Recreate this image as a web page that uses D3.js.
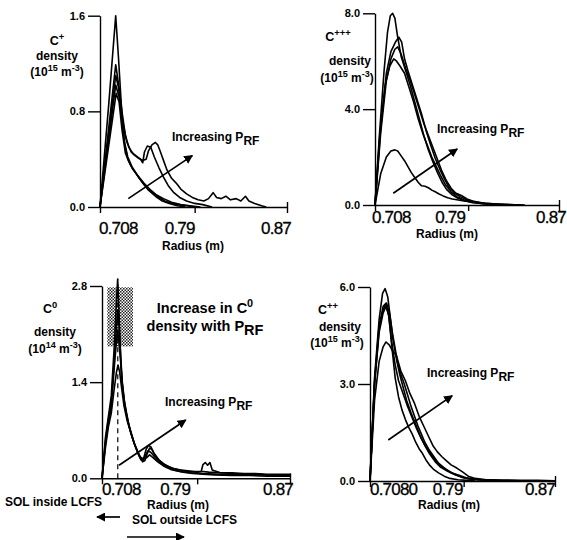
<!DOCTYPE html>
<html>
<head>
<meta charset="utf-8">
<script src="https://cdn.jsdelivr.net/npm/d3@7/dist/d3.min.js"></script>
<style>
  html, body { margin: 0; padding: 0; background: #fff; }
  svg { display: block; }
  text { font-family: "Liberation Sans", Arial, sans-serif; fill: #000; }
  .b { font-weight: bold; }
</style>
</head>
<body>
<svg id="chart" width="567" height="540"></svg>
<script>
// radius ticks shared by the four panels
const radiusTicks = [0.708, 0.79, 0.87];
const radiusDomain = [0.708, 0.87];

// C+ density (1e15 m^-3), one [radius, density] list per RF power
const cPlusTicks = [0, 0.8, 1.6];
const cPlus = [
  [[0.708,0],[0.7155,0.85],[0.7216,1.6],[0.724,1.25],[0.7265,0.85],[0.729,0.55],[0.732,0.42],[0.736,0.33],[0.740,0.27],[0.745,0.2],[0.750,0.14],[0.756,0.09],[0.762,0.05],[0.768,0.03],[0.775,0.01],[0.782,0]],
  [[0.708,0],[0.7216,1.19],[0.7245,1.0],[0.727,0.8],[0.730,0.6],[0.733,0.5],[0.737,0.44],[0.741,0.41],[0.745,0.39],[0.748,0.40],[0.750,0.47],[0.753,0.52],[0.756,0.54],[0.758,0.52],[0.760,0.47],[0.763,0.39],[0.766,0.31],[0.770,0.24],[0.774,0.2],[0.778,0.15],[0.783,0.11],[0.788,0.08],[0.793,0.06],[0.798,0.05],[0.802,0.07],[0.806,0.12],[0.809,0.08],[0.813,0.07],[0.817,0.09],[0.821,0.06],[0.826,0.07],[0.830,0.05],[0.834,0.09],[0.837,0.05],[0.842,0.03],[0.848,0.01],[0.852,0]],
  [[0.708,0],[0.7216,1.02],[0.7245,0.92],[0.7275,0.72],[0.731,0.55],[0.735,0.46],[0.739,0.43],[0.743,0.40],[0.745,0.37],[0.7465,0.46],[0.749,0.51],[0.752,0.50],[0.755,0.42],[0.759,0.33],[0.763,0.25],[0.767,0.18],[0.772,0.12],[0.777,0.08],[0.783,0.05],[0.79,0.03],[0.797,0.02],[0.805,0]],
  [[0.708,0],[0.722,0.95],[0.7245,0.88],[0.727,0.65],[0.730,0.45],[0.734,0.36],[0.738,0.3],[0.742,0.24],[0.747,0.18],[0.752,0.13],[0.758,0.09],[0.764,0.05],[0.770,0.03],[0.776,0.02],[0.783,0.01],[0.79,0]],
  [[0.708,0],[0.7216,1.1],[0.724,1.0],[0.7265,0.78],[0.729,0.55],[0.732,0.4],[0.736,0.32],[0.741,0.26],[0.746,0.2],[0.751,0.15],[0.757,0.1],[0.763,0.07],[0.770,0.04],[0.778,0.02],[0.786,0.01],[0.795,0]]
];

// C+++ density (1e15 m^-3)
const c3PlusTicks = [0, 4.0, 8.0];
const c3Plus = [
  [[0.708,0],[0.712,3.0],[0.716,5.6],[0.719,7.2],[0.7215,7.9],[0.7235,8.0],[0.7255,7.8],[0.728,7.0],[0.731,6.2],[0.735,5.6],[0.739,5.0],[0.743,4.3],[0.747,3.6],[0.751,2.9],[0.755,2.3],[0.759,1.8],[0.763,1.35],[0.767,0.95],[0.771,0.65],[0.776,0.42],[0.781,0.28],[0.787,0.18],[0.794,0.1],[0.802,0.06],[0.81,0.03],[0.82,0.01],[0.83,0]],
  [[0.708,0],[0.713,3.2],[0.718,5.5],[0.722,6.4],[0.726,6.8],[0.729,7.0],[0.7315,6.8],[0.734,6.1],[0.737,5.6],[0.741,5.0],[0.745,4.4],[0.749,3.8],[0.753,3.1],[0.757,2.5],[0.761,1.95],[0.765,1.5],[0.769,1.1],[0.773,0.75],[0.778,0.5],[0.783,0.35],[0.789,0.22],[0.796,0.12],[0.805,0.07],[0.815,0.04],[0.826,0.02],[0.838,0]],
  [[0.708,0],[0.713,3.0],[0.718,5.2],[0.722,6.1],[0.7255,6.5],[0.728,6.6],[0.731,6.3],[0.735,5.7],[0.739,5.2],[0.743,4.6],[0.747,4.0],[0.751,3.4],[0.755,2.9],[0.759,2.4],[0.763,1.9],[0.767,1.4],[0.771,1.0],[0.775,0.7],[0.779,0.5],[0.784,0.4],[0.789,0.25],[0.795,0.15],[0.803,0.08],[0.812,0.05],[0.82,0.03],[0.83,0.01],[0.84,0]],
  [[0.708,0],[0.712,2.8],[0.717,5.0],[0.721,5.8],[0.7245,6.1],[0.727,6.0],[0.73,5.8],[0.734,5.5],[0.738,4.9],[0.742,4.3],[0.746,3.6],[0.75,3.0],[0.754,2.5],[0.758,2.0],[0.762,1.6],[0.766,1.2],[0.77,0.85],[0.775,0.55],[0.78,0.35],[0.786,0.22],[0.792,0.14],[0.80,0.08],[0.808,0.04],[0.818,0.02],[0.828,0]],
  [[0.708,0],[0.713,1.3],[0.718,2.0],[0.722,2.25],[0.7255,2.3],[0.728,2.25],[0.731,2.05],[0.734,1.85],[0.737,1.6],[0.740,1.35],[0.743,1.15],[0.746,0.95],[0.749,0.8],[0.752,0.78],[0.755,0.72],[0.758,0.62],[0.761,0.55],[0.764,0.47],[0.768,0.38],[0.772,0.3],[0.776,0.25],[0.78,0.22],[0.785,0.18],[0.79,0.15],[0.795,0.12],[0.80,0.08],[0.806,0.04],[0.812,0.02],[0.82,0]]
];

// C0 density (1e14 m^-3)
const c0Ticks = [0, 1.4, 2.8];
const c0 = [
  [[0.708,0],[0.711,0.6],[0.7135,0.9],[0.716,1.2],[0.7185,1.9],[0.7205,2.6],[0.7215,2.9],[0.7225,2.5],[0.7235,2.0],[0.725,1.45],[0.727,1.15],[0.729,0.95],[0.731,0.78],[0.733,0.65],[0.736,0.5],[0.739,0.38],[0.741,0.3],[0.743,0.24],[0.745,0.26],[0.747,0.36],[0.749,0.44],[0.751,0.42],[0.753,0.35],[0.756,0.28],[0.76,0.22],[0.765,0.17],[0.77,0.14],[0.776,0.12],[0.782,0.11],[0.788,0.1],[0.795,0.1],[0.80,0.09],[0.81,0.08],[0.82,0.08],[0.83,0.07],[0.84,0.07],[0.85,0.06],[0.86,0.06],[0.87,0.06]],
  [[0.708,0],[0.711,0.55],[0.7135,0.85],[0.716,1.1],[0.7185,1.7],[0.7205,2.2],[0.7215,2.45],[0.7228,2.2],[0.724,1.8],[0.7255,1.4],[0.7275,1.1],[0.7295,0.92],[0.7315,0.75],[0.734,0.6],[0.737,0.45],[0.740,0.33],[0.742,0.27],[0.744,0.3],[0.746,0.42],[0.748,0.48],[0.750,0.46],[0.753,0.36],[0.757,0.27],[0.762,0.2],[0.768,0.15],[0.775,0.12],[0.782,0.1],[0.79,0.09],[0.7935,0.1],[0.795,0.2],[0.797,0.23],[0.799,0.19],[0.801,0.23],[0.803,0.12],[0.81,0.08],[0.82,0.07],[0.83,0.06],[0.84,0.06],[0.85,0.05],[0.86,0.05],[0.87,0.05]],
  [[0.708,0],[0.711,0.5],[0.7135,0.8],[0.716,1.05],[0.7185,1.6],[0.7205,2.0],[0.7215,2.15],[0.7228,1.95],[0.724,1.7],[0.7255,1.35],[0.7275,1.05],[0.73,0.85],[0.733,0.67],[0.736,0.5],[0.739,0.36],[0.7415,0.27],[0.7435,0.26],[0.7455,0.33],[0.7475,0.4],[0.75,0.38],[0.754,0.3],[0.758,0.23],[0.763,0.17],[0.77,0.12],[0.778,0.09],[0.786,0.07],[0.795,0.06],[0.805,0.05],[0.82,0.04],[0.835,0.04],[0.85,0.03],[0.87,0.03]],
  [[0.708,0],[0.711,0.45],[0.7135,0.75],[0.716,0.95],[0.7185,1.3],[0.7205,1.55],[0.7218,1.65],[0.7232,1.55],[0.725,1.3],[0.727,1.05],[0.7295,0.85],[0.7325,0.68],[0.7355,0.52],[0.7385,0.4],[0.741,0.31],[0.7435,0.28],[0.7465,0.3],[0.749,0.34],[0.752,0.3],[0.756,0.24],[0.761,0.18],[0.767,0.13],[0.775,0.1],[0.784,0.08],[0.795,0.07],[0.81,0.06],[0.83,0.05],[0.85,0.05],[0.87,0.04]]
];
// LCFS marker and the shaded peak region of the C0 panel
const c0Lcfs = 0.7216;
const c0Box = { r: [0.7126, 0.7347], v: [1.92, 2.78] };

// C++ density (1e15 m^-3)
const c2PlusTicks = [0, 3.0, 6.0];
const c2Plus = [
  [[0.708,0],[0.712,3.2],[0.716,5.0],[0.719,5.8],[0.7212,5.95],[0.7235,5.7],[0.726,5.0],[0.728,4.4],[0.731,3.8],[0.734,3.3],[0.737,2.9],[0.740,2.5],[0.744,2.1],[0.748,1.75],[0.752,1.4],[0.756,1.1],[0.760,0.85],[0.765,0.6],[0.770,0.42],[0.776,0.3],[0.782,0.2],[0.788,0.12],[0.795,0.07],[0.805,0.04],[0.82,0.02],[0.84,0.01],[0.86,0]],
  [[0.708,0],[0.712,3.0],[0.716,4.7],[0.7195,5.3],[0.7225,5.5],[0.725,5.2],[0.728,4.5],[0.731,3.9],[0.735,3.4],[0.739,3.1],[0.743,2.7],[0.747,2.4],[0.751,2.0],[0.755,1.7],[0.759,1.4],[0.763,1.1],[0.767,0.9],[0.771,0.75],[0.775,0.62],[0.779,0.5],[0.784,0.4],[0.789,0.28],[0.794,0.15],[0.80,0.08],[0.81,0.04],[0.825,0.03],[0.84,0.02],[0.855,0.02],[0.87,0.01]],
  [[0.708,0],[0.712,3.0],[0.716,4.6],[0.7195,5.2],[0.722,5.4],[0.7245,5.1],[0.727,4.3],[0.73,3.6],[0.733,3.1],[0.737,2.7],[0.741,2.3],[0.745,1.95],[0.749,1.6],[0.753,1.3],[0.757,1.05],[0.761,0.85],[0.765,0.65],[0.77,0.48],[0.775,0.35],[0.78,0.25],[0.786,0.18],[0.792,0.1],[0.80,0.05],[0.81,0.03],[0.825,0.01],[0.84,0]],
  [[0.708,0],[0.712,3.1],[0.716,4.8],[0.7195,5.4],[0.722,5.5],[0.7245,5.1],[0.727,4.2],[0.73,3.2],[0.733,2.6],[0.736,2.2],[0.739,1.9],[0.742,1.65],[0.745,1.45],[0.748,1.2],[0.751,1.0],[0.754,0.85],[0.757,0.65],[0.76,0.5],[0.764,0.35],[0.768,0.25],[0.773,0.15],[0.778,0.08],[0.785,0.04],[0.793,0.02],[0.80,0]],
  [[0.708,0],[0.712,2.5],[0.716,3.7],[0.7195,4.15],[0.722,4.3],[0.725,4.2],[0.728,4.0],[0.731,3.9],[0.7325,3.6],[0.735,3.3],[0.738,3.0],[0.741,2.65],[0.744,2.3],[0.747,2.0],[0.75,1.7],[0.753,1.45],[0.756,1.2],[0.76,0.95],[0.764,0.75],[0.768,0.55],[0.773,0.4],[0.778,0.28],[0.784,0.18],[0.79,0.1],[0.797,0.05],[0.805,0.03],[0.815,0.02],[0.83,0]]
];

// "Increasing P_RF" arrows, [radius, density] tail -> head
const arrowCPlus = [[0.7325, 0.07], [0.788, 0.43]];
const arrowC3Plus = [[0.7241, 0.49], [0.7804, 2.34]];
const arrowC0 = [[0.7227, 0.19], [0.7802, 0.85]];
const arrowC2Plus = [[0.724, 1.27], [0.780, 2.64]];

const svg = d3.select('#chart');

svg.append('defs').append('marker')
  .attr('id', 'head').attr('viewBox', '0 0 10 10')
  .attr('refX', 9).attr('refY', 5)
  .attr('markerWidth', 9).attr('markerHeight', 9)
  .attr('markerUnits', 'userSpaceOnUse')
  .attr('orient', 'auto')
  .append('path').attr('d', 'M0,0L10,5L0,10z').attr('fill', '#000');

const pat = svg.select('defs').append('pattern')
  .attr('id', 'checks').attr('patternUnits', 'userSpaceOnUse')
  .attr('width', 3).attr('height', 3);
pat.append('rect').attr('width', 3).attr('height', 3).attr('fill', '#fff');
pat.append('rect').attr('width', 1.5).attr('height', 1.5).attr('fill', '#222');
pat.append('rect').attr('x', 1.5).attr('y', 1.5).attr('width', 1.5).attr('height', 1.5).attr('fill', '#222');

// text with super/subscript pieces: parts = [[str, 'n'|'sup'|'sub'], ...]
function rich(g, x, y, parts, size, anchor){
  const t = g.append('text').attr('x', x).attr('y', y)
    .attr('class', 'b').attr('font-size', size)
    .attr('text-anchor', anchor || 'middle');
  let shift = 0;
  parts.forEach(([s, kind]) => {
    const want = kind === 'sup' ? -size * 0.4 : kind === 'sub' ? size * 0.3 : 0;
    t.append('tspan').attr('dy', want - shift)
      .attr('font-size', kind === 'sup' ? size * 0.75 : size)
      .text(s);
    shift = want;
  });
  return t;
}

function drawPanel(p){
  const g = svg.append('g');
  const x = d3.scaleLinear().domain(radiusDomain).range([p.x0, p.x1]);
  const y = d3.scaleLinear().domain([0, p.yTicks[2]]).range([p.y0, p.yTop]);

  if(p.box){
    g.append('rect')
      .attr('x', x(p.box.r[0])).attr('y', y(p.box.v[1]))
      .attr('width', x(p.box.r[1]) - x(p.box.r[0]))
      .attr('height', y(p.box.v[0]) - y(p.box.v[1]))
      .attr('fill', 'url(#checks)');
  }

  const yAx = g.append('g').attr('transform', `translate(${p.x0},0)`)
    .call(d3.axisLeft(y).tickValues(p.yTicks).tickSize(12).tickSizeOuter(0)
      .tickPadding(3).tickFormat(d3.format('.1f')));
  yAx.selectAll('text').attr('class', 'b').attr('font-size', 11)
    .attr('font-family', '"Liberation Sans", Arial, sans-serif');

  g.append('g').attr('transform', `translate(0,${p.y0})`)
    .call(d3.axisBottom(x).tickValues(radiusTicks).tickSize(6).tickSizeOuter(0).tickFormat(''));
  g.append('g').attr('transform', `translate(0,${p.y0})`)
    .call(d3.axisTop(x).tickValues([radiusTicks[2]]).tickSize(5).tickFormat(''))
    .select('.domain').remove();
  g.selectAll('.domain, .tick line').attr('stroke', '#000').attr('stroke-width', 1.4);

  // radius tick labels, placed as in the original figure
  p.xLabels.forEach((lab, i) => {
    g.append('text').attr('x', x(radiusTicks[i]) + p.xLabelDx[i]).attr('y', p.xLabelY)
      .attr('text-anchor', i === 0 ? 'start' : 'end')
      .attr('font-size', 17).attr('font-family', '"DejaVu Sans", sans-serif')
      .attr('letter-spacing', -0.8)
      .attr('stroke', '#000').attr('stroke-width', 0.3)
      .text(lab);
  });
  g.append('text').attr('class', 'b').attr('font-size', 12)
    .attr('x', p.radiusX).attr('y', p.radiusY).attr('text-anchor', 'middle')
    .text('Radius (m)');

  // y label block
  rich(g, p.ion.x, p.ion.y, [['C', 'n'], [p.ion.sup, 'sup']], 12.5);
  rich(g, p.dens.x, p.dens.y, [['density', 'n']], 12);
  rich(g, p.unit.x, p.unit.y, [['(10', 'n'], [p.unit.exp, 'sup'], [' m', 'n'], ['-3', 'sup'], [')', 'n']], 12);

  if(p.dashAt){
    g.append('line')
      .attr('x1', x(p.dashAt)).attr('x2', x(p.dashAt))
      .attr('y1', y(0)).attr('y2', y(p.dashTop))
      .attr('stroke', '#000').attr('stroke-width', 1.2)
      .attr('stroke-dasharray', '5,4');
  }

  const line = d3.line().x(d => x(d[0])).y(d => y(d[1]));
  g.selectAll('path.curve').data(p.curves).join('path')
    .attr('class', 'curve').attr('d', line)
    .attr('fill', 'none').attr('stroke', '#000')
    .attr('stroke-width', 1.6).attr('stroke-linejoin', 'round');

  g.append('line')
    .attr('x1', x(p.arrow[0][0])).attr('y1', y(p.arrow[0][1]))
    .attr('x2', x(p.arrow[1][0])).attr('y2', y(p.arrow[1][1]))
    .attr('stroke', '#000').attr('stroke-width', 1.7)
    .attr('marker-end', 'url(#head)');

  rich(g, p.incr.x, p.incr.y, [['Increasing P', 'n'], ['RF', 'sub']], 12, 'start');
}

drawPanel({
  x0: 100, x1: 287, y0: 207, yTop: 15.7, yTicks: cPlusTicks, curves: cPlus,
  xLabels: ['0.708', '0.79', '0.87'], xLabelDx: [-1, 0, 4], xLabelY: 234,
  radiusX: 193, radiusY: 250,
  ion: { x: 57, y: 45, sup: '+' }, dens: { x: 57, y: 60 }, unit: { x: 57, y: 76, exp: '15' },
  arrow: arrowCPlus, incr: { x: 172, y: 141 }
});

drawPanel({
  x0: 375, x1: 559, y0: 205, yTop: 13.3, yTicks: c3PlusTicks, curves: c3Plus,
  xLabels: ['0.708', '0.79', '0.87'], xLabelDx: [-3, -3, 7], xLabelY: 223,
  radiusX: 447, radiusY: 238,
  ion: { x: 338, y: 41, sup: '+++' }, dens: { x: 350, y: 65 }, unit: { x: 347, y: 82, exp: '15' },
  arrow: arrowC3Plus, incr: { x: 437, y: 133 }
});

drawPanel({
  x0: 102, x1: 290, y0: 478.3, yTop: 286, yTicks: c0Ticks, curves: c0,
  xLabels: ['0.708', '0.79', '0.87'], xLabelDx: [0, -7, 3], xLabelY: 495,
  radiusX: 178, radiusY: 509,
  ion: { x: 50, y: 313, sup: '0' }, dens: { x: 55, y: 336 }, unit: { x: 55, y: 353, exp: '14' },
  arrow: arrowC0, incr: { x: 165, y: 406 },
  dashAt: c0Lcfs, dashTop: 2.9, box: c0Box
});

drawPanel({
  x0: 370, x1: 555, y0: 481, yTop: 287, yTicks: c2PlusTicks, curves: c2Plus,
  xLabels: ['0.7080', '0.79', '0.87'], xLabelDx: [0, -1, 0], xLabelY: 495,
  radiusX: 449, radiusY: 509,
  ion: { x: 328, y: 314, sup: '++' }, dens: { x: 340, y: 331 }, unit: { x: 337, y: 347, exp: '15' },
  arrow: arrowC2Plus, incr: { x: 427, y: 377 }
});

// extra annotations of the C0 panel
const notes = svg.append('g');
rich(notes, 205, 313, [['Increase in C', 'n'], ['0', 'sup']], 14.5);
rich(notes, 205, 331, [['density with P', 'n'], ['RF', 'sub']], 14.5);
notes.append('text').attr('class', 'b').attr('font-size', 12)
  .attr('x', 5).attr('y', 506).text('SOL inside LCFS');
notes.append('text').attr('class', 'b').attr('font-size', 12)
  .attr('x', 132).attr('y', 524).text('SOL outside LCFS');
notes.append('line').attr('x1', 120).attr('y1', 517).attr('x2', 97).attr('y2', 517)
  .attr('stroke', '#000').attr('stroke-width', 1.7).attr('marker-end', 'url(#head)');
notes.append('line').attr('x1', 127).attr('y1', 537).attr('x2', 184).attr('y2', 537)
  .attr('stroke', '#000').attr('stroke-width', 1.7).attr('marker-end', 'url(#head)');
</script>
</body>
</html>
